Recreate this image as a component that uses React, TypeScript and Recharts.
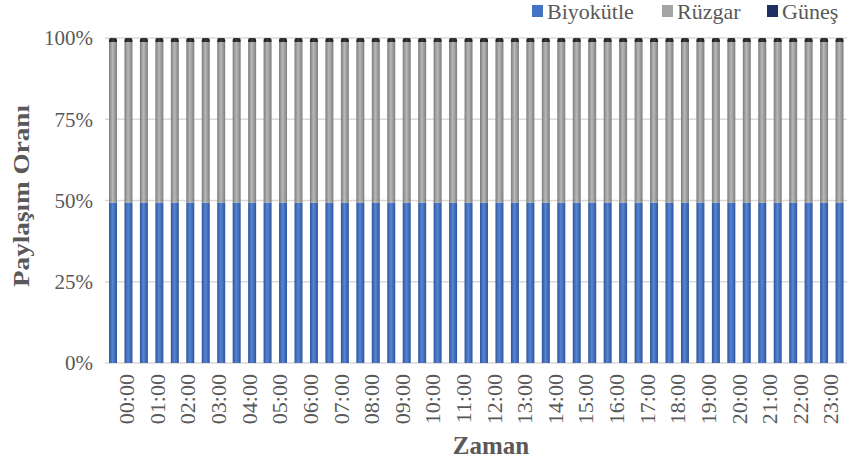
import React from 'react';
import { BarChart, Bar, XAxis, YAxis, CartesianGrid } from 'recharts';

// half-hour slots; the hour labels sit on every second bar
const times = [
  '23:30', '00:00', '00:30', '01:00', '01:30', '02:00', '02:30', '03:00',
  '03:30', '04:00', '04:30', '05:00', '05:30', '06:00', '06:30', '07:00',
  '07:30', '08:00', '08:30', '09:00', '09:30', '10:00', '10:30', '11:00',
  '11:30', '12:00', '12:30', '13:00', '13:30', '14:00', '14:30', '15:00',
  '15:30', '16:00', '16:30', '17:00', '17:30', '18:00', '18:30', '19:00',
  '19:30', '20:00', '20:30', '21:00', '21:30', '22:00', '22:30', '23:00',
];

const biyokutle = [
  49.4, 49.4, 49.4, 49.4, 49.4, 49.4, 49.4, 49.4, 49.4, 49.4, 49.4, 49.4,
  49.4, 49.4, 49.4, 49.4, 49.4, 49.4, 49.4, 49.4, 49.4, 49.4, 49.4, 49.4,
  49.4, 49.4, 49.4, 49.4, 49.4, 49.4, 49.4, 49.4, 49.4, 49.4, 49.4, 49.4,
  49.4, 49.4, 49.4, 49.4, 49.4, 49.4, 49.4, 49.4, 49.4, 49.4, 49.4, 49.4,
];
const ruzgar = [
  49.4, 49.4, 49.4, 49.4, 49.4, 49.4, 49.4, 49.4, 49.4, 49.4, 49.4, 49.4,
  49.4, 49.4, 49.4, 49.4, 49.4, 49.4, 49.4, 49.4, 49.4, 49.4, 49.4, 49.4,
  49.4, 49.4, 49.4, 49.4, 49.4, 49.4, 49.4, 49.4, 49.4, 49.4, 49.4, 49.4,
  49.4, 49.4, 49.4, 49.4, 49.4, 49.4, 49.4, 49.4, 49.4, 49.4, 49.4, 49.4,
];
const gunes = [
  1.2, 1.2, 1.2, 1.2, 1.2, 1.2, 1.2, 1.2, 1.2, 1.2, 1.2, 1.2,
  1.2, 1.2, 1.2, 1.2, 1.2, 1.2, 1.2, 1.2, 1.2, 1.2, 1.2, 1.2,
  1.2, 1.2, 1.2, 1.2, 1.2, 1.2, 1.2, 1.2, 1.2, 1.2, 1.2, 1.2,
  1.2, 1.2, 1.2, 1.2, 1.2, 1.2, 1.2, 1.2, 1.2, 1.2, 1.2, 1.2,
];
const yTicks = [0, 25, 50, 75, 100];

const data = times.map((t, i) => ({
  time: t,
  biyokutle: biyokutle[i],
  ruzgar: ruzgar[i],
  gunes: gunes[i],
}));

const FONT = '"Liberation Serif", "Times New Roman", serif';
const TEXT = '#595959';

const TimeTick = (props: any) => {
  const { x, y, payload, index } = props;
  if (payload.value === '23:30' || !payload.value.endsWith(':00')) return null;
  const k = (index - 1) / 2;
  return (
    <text
      transform={`translate(${x + 6 - 0.3 * k},${y + 9}) rotate(-90)`}
      textAnchor="end"
      fontFamily={FONT}
      fontSize={22}
      fill={TEXT}
    >
      {payload.value}
    </text>
  );
};

const legendItems = [
  { name: 'Biyokütle', color: '#4472C4', left: 532 },
  { name: 'Rüzgar', color: '#A5A5A5', left: 662 },
  { name: 'Güneş', color: '#1F2F63', left: 767 },
];

export default function App() {
  return (
    <div style={{ position: 'absolute', left: 0, top: 0, width: 847, height: 463, background: '#fff', overflow: 'hidden' }}>
      <svg width={0} height={0} style={{ position: 'absolute' }}>
        <defs>
          <linearGradient id="gBlue" x1="0" y1="0" x2="1" y2="0">
            <stop offset="0%" stopColor="#2E5597" />
            <stop offset="45%" stopColor="#5685D6" />
            <stop offset="100%" stopColor="#2F559A" />
          </linearGradient>
          <linearGradient id="gGray" x1="0" y1="0" x2="1" y2="0">
            <stop offset="0%" stopColor="#7C7C7C" />
            <stop offset="45%" stopColor="#B8B8B8" />
            <stop offset="100%" stopColor="#7E7E7E" />
          </linearGradient>
          <linearGradient id="gDark" x1="0" y1="0" x2="1" y2="0">
            <stop offset="0%" stopColor="#1A1A1A" />
            <stop offset="50%" stopColor="#3A3A3A" />
            <stop offset="100%" stopColor="#1A1A1A" />
          </linearGradient>
        </defs>
      </svg>
      <BarChart
        width={847}
        height={463}
        data={data}
        barSize={8}
        margin={{ top: 38, right: 0, left: 0, bottom: 0 }}
      >
        <CartesianGrid vertical={false} stroke="#D9D9D9" strokeWidth={1.5} />
        <XAxis
          dataKey="time"
          interval={0}
          tickLine={false}
          axisLine={false}
          height={100}
          tickSize={0}
          tick={<TimeTick />}
          label={{
            content: () => (
              <text x={491} y={454} textAnchor="middle" fontFamily={FONT} fontWeight="bold" fontSize={25} fill={TEXT}>
                Zaman
              </text>
            ),
          }}
        />
        <YAxis
          domain={[0, 100]}
          ticks={yTicks}
          width={105}
          tickSize={0}
          tickMargin={12}
          tickLine={false}
          axisLine={false}
          tickFormatter={(v: number) => `${v}%`}
          tick={{ fontFamily: FONT, fontSize: 21, fill: TEXT }}
          label={{
            content: () => (
              <text
                transform="translate(29,196) rotate(-90)"
                textAnchor="middle"
                fontFamily={FONT}
                fontWeight="bold"
                fontSize={23}
                fill={TEXT}
                textLength={182}
                lengthAdjust="spacingAndGlyphs"
              >
                Paylaşım Oranı
              </text>
            ),
          }}
        />
        <Bar dataKey="biyokutle" stackId="a" fill="url(#gBlue)" isAnimationActive={false} />
        <Bar dataKey="ruzgar" stackId="a" fill="url(#gGray)" isAnimationActive={false} />
        <Bar dataKey="gunes" stackId="a" fill="url(#gDark)" radius={[3, 3, 0, 0]} isAnimationActive={false} />
      </BarChart>
      <svg width={847} height={30} style={{ position: 'absolute', left: 0, top: 0 }}>
        {legendItems.map((it) => (
          <g key={it.name}>
            <rect x={it.left} y={5} width={11} height={12} fill={it.color} />
            <text x={it.left + 15} y={19} fontFamily={FONT} fontSize={22} fill={TEXT}>
              {it.name}
            </text>
          </g>
        ))}
      </svg>
    </div>
  );
}
